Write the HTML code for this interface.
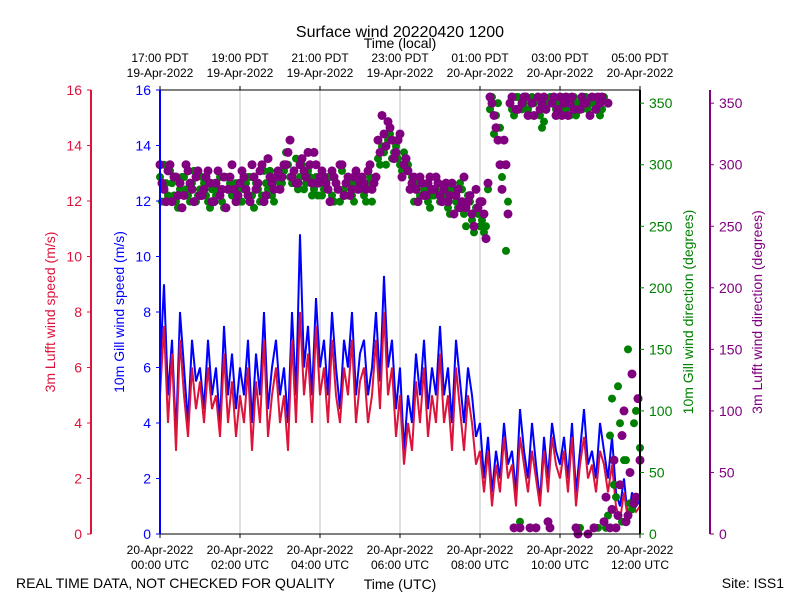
<!DOCTYPE html>
<html><head><meta charset="utf-8"><style>
body{margin:0;background:#fff;}
svg{display:block;font-family:"Liberation Sans","DejaVu Sans",sans-serif;}
</style></head><body>
<svg id="chart" width="800" height="600" xmlns="http://www.w3.org/2000/svg"></svg>
<script>
const hours = [];
for (let i = 0; i <= 120; i++) hours.push(i / 10);
const hoursMid = [];
for (let i = 0; i < 120; i++) hoursMid.push(i / 10 + 0.05);
const gillSpeed = [6,9,5,7,3.5,8,6,4,7,5.5,6,
4.5,7,5,6,4,7.5,5,6.5,4.5,6,
5,7,4,6.5,5,8,4.5,6,7,5,
6,4,8,5,10.8,6,7.5,5,8.5,6,
7,5,8,6,4.5,7,6,8,5,6.5,
7,5,6,8,5.5,9.3,6,7,4.5,6,
3,5,4,6.5,5,7,4.5,6,5,7.5,
5,6,4,7,5.5,4,6,5,3.5,4,
2,3.5,1.5,3,2,4,2.5,3,1.5,4.5,
3,2,4,2.5,1.2,3.5,2,4,3,2.5,
3.5,2,4,1.5,3,4.5,2.5,3,2,4,
3,2,3.5,1.5,1,2,0.5,1.5,1,1.2];
const lufftSpeed = [5,7.5,4,6.5,3,7,5,3.5,6,4.5,5.5,
4,6,4.5,5,3.5,6.5,4,5.5,3.5,5,
4,6,3,5.5,4,7,3.5,5,6,4,
5,3,7,4,8,5,6.5,4,7.5,5,
6,4,7,5,4,6,5,7,4,5.5,
6,4,5,7,4.5,8,5,6,3.5,5,
2.5,4,3,5.5,4,6,3.5,5,4,6.5,
4,5,3,6,4.5,3,5,4,2.5,3,
1.5,3,1,2.5,1.5,3.5,2,2.5,1,3.5,
2.5,1.5,3,2,1,3,1.5,3.5,2.5,2,
3,1.5,3.5,1,2.5,3.5,2,2.5,1.5,3,
2.5,1.5,2.5,1,0.5,1.5,0.5,1,0.8,1];
const gillDir = [290,300,275,285,270,280,290,275,285,270,280,
285,270,280,275,290,265,280,275,285,270,
280,290,275,285,270,295,280,275,290,285,
295,300,285,305,290,280,295,275,290,285,
280,290,275,285,270,280,290,275,285,280,
275,285,270,290,300,310,320,305,315,300,
310,300,290,285,275,280,270,275,280,270,
275,265,280,270,285,260,275,255,265,250,
245,280,355,340,330,300,270,345,355,10,
350,345,355,5,340,335,350,355,345,350,
345,355,350,340,5,355,345,350,355,340,
355,15,110,30,90,60,150,20,100,70];
const gillDir2 = [270,285,295,275,265,290,280,270,295,275,
290,275,265,285,280,270,290,285,275,280,
270,285,290,265,280,275,285,295,270,280,
285,310,290,295,280,300,285,290,280,275,
275,285,290,270,280,295,275,285,270,290,
280,270,290,285,305,315,300,325,310,305,
295,305,280,270,285,275,280,265,275,285,
270,280,260,275,265,280,250,270,245,260,
255,250,345,325,350,290,230,350,340,355,
345,355,340,350,355,330,345,355,350,340,
355,345,340,355,350,345,355,340,350,5,
345,5,80,40,120,10,60,25,90,110];
const lufftDir = [300,280,295,270,290,285,275,295,280,290,275,
280,295,270,285,275,290,280,300,270,285,
290,275,300,280,295,270,305,285,290,280,
300,310,290,285,300,295,310,285,300,290,
290,280,295,285,300,275,290,280,295,285,
285,295,280,290,310,325,335,320,310,325,
300,295,285,280,290,275,285,280,290,275,
280,270,285,275,265,290,270,260,280,270,
260,285,350,330,300,320,260,355,345,5,
355,340,350,5,345,355,10,350,340,355,
350,340,355,5,345,350,0,355,345,350,
10,350,20,5,40,100,15,130,30,60];
const lufftDir2 = [285,270,300,290,275,265,300,285,270,295,
275,290,285,270,295,280,265,290,280,275,
295,280,270,290,285,300,275,290,280,295,
290,300,320,295,285,305,290,300,310,285,
295,285,270,290,280,300,285,275,290,280,
290,280,300,285,320,340,315,330,305,320,
290,305,280,290,270,285,275,290,280,285,
270,285,275,260,280,270,265,275,250,265,
270,240,355,340,320,280,300,350,5,345,
350,355,5,340,355,350,345,5,355,345,
340,355,350,345,0,355,350,340,5,355,
355,30,5,60,15,80,10,50,25,110];
const xTickHours = [0,2,4,6,8,10,12];
const utcLabels = ["20-Apr-2022|00:00 UTC","20-Apr-2022|02:00 UTC","20-Apr-2022|04:00 UTC","20-Apr-2022|06:00 UTC","20-Apr-2022|08:00 UTC","20-Apr-2022|10:00 UTC","20-Apr-2022|12:00 UTC"];
const localLabels = ["17:00 PDT|19-Apr-2022","19:00 PDT|19-Apr-2022","21:00 PDT|19-Apr-2022","23:00 PDT|19-Apr-2022","01:00 PDT|20-Apr-2022","03:00 PDT|20-Apr-2022","05:00 PDT|20-Apr-2022"];
const speedTicks = [0,2,4,6,8,10,12,14,16];
const dirTicks = [0,50,100,150,200,250,300,350];

const L=160,R=640,T=90,B=534;
const x = h => L + (h/12)*(R-L);
const ySpd = v => B - (v/16)*(B-T);
const yDir = d => B - (d/360.7)*(B-T);
const svg = document.getElementById('chart');
const NS='http://www.w3.org/2000/svg';
function mk(tag, attrs, parent){const e=document.createElementNS(NS,tag);for(const k in attrs)e.setAttribute(k,attrs[k]);(parent||svg).appendChild(e);return e;}
function txt(s,attrs,parent){const e=mk('text',attrs,parent);e.textContent=s;return e;}

xTickHours.forEach(h=>{const g=mk('line',{x1:x(h),x2:x(h),y1:T,y2:B,stroke:'#b0b0b0','stroke-width':0.8});

});

function pathFor(arr,yf){return arr.map((v,i)=>(i?'L':'M')+x(hours[i]).toFixed(1)+','+yf(v).toFixed(1)).join('');}
const gl=mk('path',{d:pathFor(gillSpeed,ySpd),fill:'none',stroke:'#0000ff','stroke-width':2});


const ll=mk('path',{d:pathFor(lufftSpeed,ySpd),fill:'none',stroke:'#dc143c','stroke-width':2});


function dots(arr,ts,col,r,name){arr.forEach((d,i)=>{const c=mk('circle',{cx:x(ts[i]),cy:yDir(d),r:r,fill:col});

});}
dots(gillDir,hours,'#008000',4,'gill-direction-point');
dots(gillDir2,hoursMid,'#008000',4,'gill-direction-point');
dots(lufftDir,hours,'#800080',4.5,'lufft-direction-point');
dots(lufftDir2,hoursMid,'#800080',4.5,'lufft-direction-point');

mk('line',{x1:L,x2:R,y1:T,y2:T,stroke:'#000','stroke-width':1});
mk('line',{x1:L,x2:R,y1:B,y2:B,stroke:'#000','stroke-width':1});
mk('line',{x1:R,x2:R,y1:T,y2:B,stroke:'#000','stroke-width':2});
mk('line',{x1:L,x2:L,y1:T,y2:B,stroke:'#0000ff','stroke-width':2});
mk('line',{x1:91,x2:91,y1:T,y2:B,stroke:'#dc143c','stroke-width':2});
mk('line',{x1:710,x2:710,y1:T,y2:B,stroke:'#800080','stroke-width':2});

xTickHours.forEach((h,i)=>{
  mk('line',{x1:x(h),x2:x(h),y1:B,y2:B+4,stroke:'#000'});
  mk('line',{x1:x(h),x2:x(h),y1:T,y2:T-4,stroke:'#000'});
  const u=utcLabels[i].split('|'), lo=localLabels[i].split('|');
  const t1=txt(u[0],{x:x(h),y:554,'font-size':12,'text-anchor':'middle'});
  
  
  txt(u[1],{x:x(h),y:569,'font-size':12,'text-anchor':'middle'});
  const t2=txt(lo[0],{x:x(h),y:62,'font-size':12,'text-anchor':'middle'});
  
  
  txt(lo[1],{x:x(h),y:77,'font-size':12,'text-anchor':'middle'});
});
speedTicks.forEach(v=>{
  mk('line',{x1:91,x2:87,y1:ySpd(v),y2:ySpd(v),stroke:'#dc143c'});
  txt(String(v),{x:82,y:ySpd(v)+5,'font-size':14,'text-anchor':'end',fill:'#dc143c'});
  mk('line',{x1:160,x2:156,y1:ySpd(v),y2:ySpd(v),stroke:'#0000ff'});
  txt(String(v),{x:151,y:ySpd(v)+5,'font-size':14,'text-anchor':'end',fill:'#0000ff'});
});
dirTicks.forEach(d=>{
  mk('line',{x1:640,x2:644,y1:yDir(d),y2:yDir(d),stroke:'#008000'});
  txt(String(d),{x:649,y:yDir(d)+5,'font-size':14,fill:'#008000'});
  mk('line',{x1:710,x2:714,y1:yDir(d),y2:yDir(d),stroke:'#800080'});
  txt(String(d),{x:719,y:yDir(d)+5,'font-size':14,fill:'#800080'});
});
function vtitle(s,cx,col,name){const t=txt(s,{x:cx,y:312,'font-size':14,'text-anchor':'middle',fill:col,transform:`rotate(-90 ${cx} 312)`});

}
vtitle('3m Lufft wind speed (m/s)',55,'#dc143c','lufft-speed-axis-title');
vtitle('10m Gill wind speed (m/s)',124,'#0000ff','gill-speed-axis-title');
vtitle('10m Gill wind direction (degrees)',693,'#008000','gill-direction-axis-title');
vtitle('3m Lufft wind direction (degrees)',762,'#800080','lufft-direction-axis-title');
</script>
<svg style="position:absolute;left:0;top:0" width="800" height="600">
<text x="400" y="37" font-size="16" text-anchor="middle" font-family="Liberation Sans, sans-serif">Surface wind 20220420 1200</text>
<text x="400" y="48" font-size="14" text-anchor="middle" font-family="Liberation Sans, sans-serif">Time (local)</text>
<text x="400" y="589" font-size="14" text-anchor="middle" font-family="Liberation Sans, sans-serif">Time (UTC)</text>
<text x="16" y="588" font-size="14" font-family="Liberation Sans, sans-serif">REAL TIME DATA, NOT CHECKED FOR QUALITY</text>
<text x="784" y="588" font-size="14" text-anchor="end" font-family="Liberation Sans, sans-serif">Site: ISS1</text>
</svg>
</body></html>
